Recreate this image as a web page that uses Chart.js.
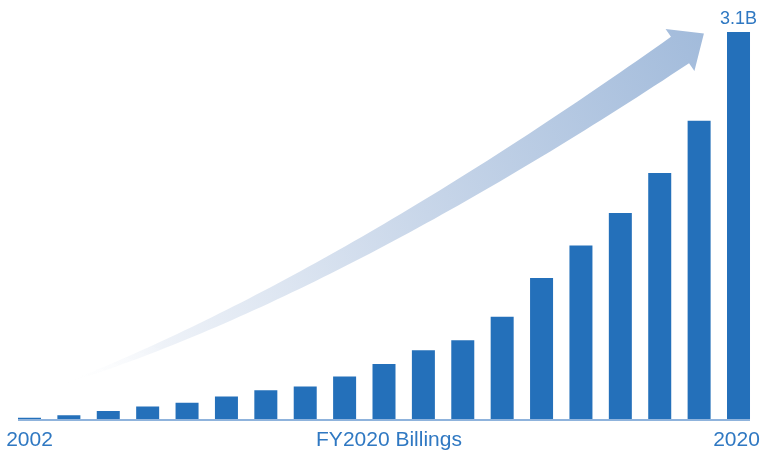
<!DOCTYPE html>
<html>
<head>
<meta charset="utf-8">
<style>
  html, body { margin: 0; padding: 0; background: #ffffff; }
  #wrap { width: 760px; height: 450px; position: relative; }
</style>
</head>
<body>
<div id="wrap">
    <canvas id="myChart" width="760" height="450"></canvas>
</div>

<script src="https://cdn.jsdelivr.net/npm/chart.js@4.4.0/dist/chart.umd.min.js"></script>
<script>

    // billings by fiscal year, in billions
    const years = ['2002', '2003', '2004', '2005', '2006', '2007', '2008', '2009', '2010', '2011',
                   '2012', '2013', '2014', '2015', '2016', '2017', '2018', '2019', '2020'];
    const billings = [0.01, 0.03, 0.065, 0.1, 0.13, 0.18, 0.23, 0.26, 0.34, 0.44,
                      0.55, 0.63, 0.82, 1.13, 1.39, 1.65, 1.97, 2.39, 3.1];
    const axisTitle = 'FY2020 Billings';
    const shownTicks = ['2002', '2020'];
    const topLabel = '3.1B';

    const barColor = '#2470ba';
    const textColor = '#2f78c2';
    const fontFamily = '"Liberation Sans", Arial, Helvetica, sans-serif';

    // big decorative arrow behind the bars
    const arrowPlugin = {
        id: 'arrow',
        beforeDatasetsDraw(chart) {
            const ctx = chart.ctx;
            const p0 = { x: 60, y: 385 }, p1 = { x: 330, y: 290 }, p2 = { x: 680, y: 50 };
            const upper = [], lower = [];
            const steps = 80;
            let last;
            for (let i = 0; i <= steps; i++) {
                const t = i / steps;
                const x = (1 - t) * (1 - t) * p0.x + 2 * (1 - t) * t * p1.x + t * t * p2.x;
                const y = (1 - t) * (1 - t) * p0.y + 2 * (1 - t) * t * p1.y + t * t * p2.y;
                let dx = 2 * (1 - t) * (p1.x - p0.x) + 2 * t * (p2.x - p1.x);
                let dy = 2 * (1 - t) * (p1.y - p0.y) + 2 * t * (p2.y - p1.y);
                const len = Math.hypot(dx, dy);
                dx /= len; dy /= len;
                const nx = -dy, ny = dx;
                const w = 32 * Math.pow(t, 0.85) / 2;
                upper.push([x - nx * w, y - ny * w]);
                lower.push([x + nx * w, y + ny * w]);
                last = { x, y, dx, dy, nx, ny };
            }
            const hw = 25.5, hl = 29;
            ctx.save();
            const grad = ctx.createLinearGradient(p0.x, p0.y, 705, 33);
            grad.addColorStop(0, 'rgba(255,255,255,0)');
            grad.addColorStop(0.15, '#eef2f8');
            grad.addColorStop(0.55, '#c8d6e9');
            grad.addColorStop(1, '#a2bbdb');
            ctx.fillStyle = grad;
            ctx.beginPath();
            upper.forEach((pt, i) => i ? ctx.lineTo(pt[0], pt[1]) : ctx.moveTo(pt[0], pt[1]));
            ctx.lineTo(last.x - last.nx * hw, last.y - last.ny * hw);
            ctx.lineTo(last.x + last.dx * hl, last.y + last.dy * hl);
            ctx.lineTo(last.x + last.nx * hw, last.y + last.ny * hw);
            for (let i = lower.length - 1; i >= 0; i--) ctx.lineTo(lower[i][0], lower[i][1]);
            ctx.closePath();
            ctx.fill();
            ctx.restore();
        }
    };

    // baseline, the two year labels, the axis title and the value over the last bar
    const labelPlugin = {
        id: 'labels',
        afterDatasetsDraw(chart) {
            const ctx = chart.ctx;
            const bars = chart.getDatasetMeta(0).data;
            const first = bars[0], lastBar = bars[bars.length - 1];
            const half = first.width / 2;
            const base = chart.scales.y.getPixelForValue(0);
            ctx.save();
            ctx.strokeStyle = '#8fb3dc';
            ctx.lineWidth = 2;
            ctx.beginPath();
            ctx.moveTo(first.x - half, base + 1);
            ctx.lineTo(lastBar.x + half, base + 1);
            ctx.stroke();

            ctx.fillStyle = textColor;
            ctx.textBaseline = 'alphabetic';
            ctx.font = '21px ' + fontFamily;
            ctx.textAlign = 'center';
            years.forEach((y, i) => {
                if (!shownTicks.includes(y)) return;
                const shift = i === years.length - 1 ? -2 : 0;
                ctx.fillText(y, bars[i].x + shift, 446);
            });
            ctx.fillText(axisTitle, (chart.chartArea.left + chart.chartArea.right) / 2 + 5, 446);

            ctx.font = '18px ' + fontFamily;
            ctx.fillText(topLabel, lastBar.x, 24);
            ctx.restore();
        }
    };

    var ctx = document.getElementById('myChart').getContext('2d');
    var myChart = new Chart(ctx, {
        type: 'bar',
        data: {
            labels: years,
            datasets: [{
                label: 'Billings',
                data: billings,
                backgroundColor: barColor,
                borderWidth: 0,
                categoryPercentage: 1,
                barPercentage: 0.584
            }]
        },
        options: {
            responsive: false,
            animation: false,
            layout: {
                padding: { left: 9.8, right: 1.8, top: 0, bottom: 31 }
            },
            plugins: {
                legend: { display: false },
                tooltip: { enabled: false }
            },
            scales: {
                x: { display: false },
                y: { display: false, min: 0, max: 3.1 * 419 / 387 }
            }
        },
        plugins: [arrowPlugin, labelPlugin]
    });

</script>
</body>
</html>
